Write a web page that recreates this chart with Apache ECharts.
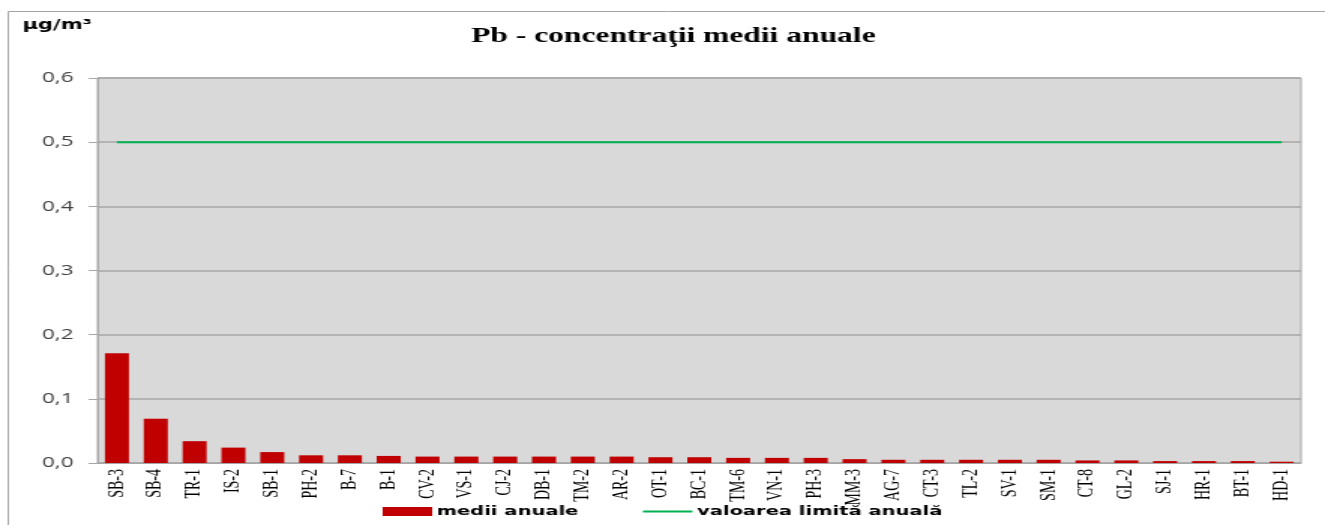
<!DOCTYPE html>
<html>
<head>
<meta charset="utf-8">
<script src="https://cdn.jsdelivr.net/npm/echarts@6/dist/echarts.min.js"></script>
<style>
html,body{margin:0;padding:0;background:#fff;overflow:hidden;}
/* the source picture is stretched sideways, so draw narrower and stretch the same way */
#chart{width:883px;height:525px;transform:scaleX(1.5006);transform-origin:0 0;}
</style>
</head>
<body>
<div id="chart"></div>
<script>
var stations = ['SB-3','SB-4','TR-1','IS-2','SB-1','PH-2','B-7','B-1','CV-2','VS-1','CJ-2','DB-1','TM-2','AR-2','OT-1','BC-1','TM-6','VN-1','PH-3','MM-3','AG-7','CT-3','TL-2','SV-1','SM-1','CT-8','GL-2','SJ-1','HR-1','BT-1','HD-1'];
var medii = [0.171,0.069,0.034,0.024,0.017,0.012,0.012,0.011,0.010,0.010,0.010,0.010,0.010,0.010,0.009,0.009,0.008,0.008,0.008,0.006,0.005,0.005,0.005,0.005,0.005,0.004,0.004,0.003,0.003,0.003,0.002];
var limita = [0.5,0.5,0.5,0.5,0.5,0.5,0.5,0.5,0.5,0.5,0.5,0.5,0.5,0.5,0.5,0.5,0.5,0.5,0.5,0.5,0.5,0.5,0.5,0.5,0.5,0.5,0.5,0.5,0.5,0.5,0.5];
var yTicks = [0, 0.6, 0.1];

var myChart = echarts.init(document.getElementById('chart'));
myChart.setOption({
	animation: false,
	title: {
		text: 'Pb - concentraţii medii anuale',
		left: 309,
		top: 21,
		textStyle: {fontFamily: 'Liberation Serif', fontWeight: 'bold', fontSize: 21, color: '#000'}
	},
	graphic: [
		// outer chart frame (only top and left edges are in view)
		{type: 'line', shape: {x1: 5.5, y1: 11.5, x2: 883, y2: 11.5}, style: {stroke: '#a6a6a6', lineWidth: 1}, silent: true},
		{type: 'line', shape: {x1: 5.5, y1: 11.5, x2: 5.5, y2: 525}, style: {stroke: '#a6a6a6', lineWidth: 1}, silent: true},
		{type: 'text', left: 15, top: 18, style: {text: 'µg/m³', font: 'bold 14px "DejaVu Sans"', fill: '#000'}}
	],
	legend: {
		bottom: 2,
		left: 250,
		itemGap: 43,
		itemWidth: 33,
		itemHeight: 9,
		textStyle: {fontFamily: 'DejaVu Sans', fontWeight: 'bold', fontSize: 13, color: '#000', padding: [0, 0, 0, -2]},
		data: [
			{name: 'medii anuale', icon: 'rect'},
			{name: 'valoarea limită anuală', icon: 'path://M0,0H34V2.2H0Z'}
		]
	},
	grid: {left: 65, right: 16, top: 78, bottom: 62, show: true, backgroundColor: '#d9d9d9', borderColor: '#a6a6a6', borderWidth: 1},
	xAxis: {
		type: 'category',
		data: stations,
		axisLine: {lineStyle: {color: '#a6a6a6'}},
		axisTick: {show: false},
		axisLabel: {rotate: 90, interval: 0, fontFamily: 'Liberation Serif', fontSize: 14, color: '#000', margin: 6}
	},
	yAxis: {
		type: 'value',
		min: yTicks[0],
		max: yTicks[1],
		interval: yTicks[2],
		axisLine: {show: true, lineStyle: {color: '#a6a6a6'}},
		axisTick: {show: true, length: 6, lineStyle: {color: '#a6a6a6'}},
		splitLine: {lineStyle: {color: '#a6a6a6', width: 1.5}},
		axisLabel: {
			fontFamily: 'Open Sans', fontSize: 15, color: '#404040', margin: 16,
			formatter: function(v){ return v.toFixed(1).replace('.', ','); }
		}
	},
	series: [
		{
			name: 'medii anuale',
			type: 'bar',
			data: medii,
			barWidth: 16,
			itemStyle: {color: '#c00000'}
		},
		{
			name: 'valoarea limită anuală',
			type: 'line',
			data: limita,
			symbol: 'none',
			lineStyle: {color: '#00b050', width: 2},
			itemStyle: {color: '#00b050'}
		}
	]
});
</script>
</body>
</html>
